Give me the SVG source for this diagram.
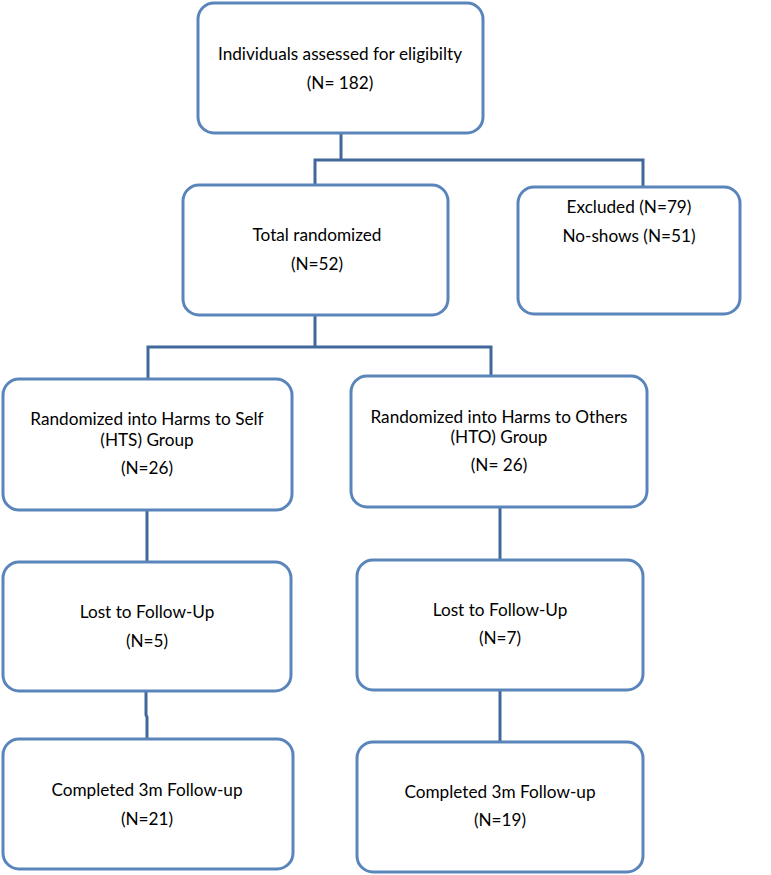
<svg xmlns="http://www.w3.org/2000/svg" width="771" height="875" viewBox="0 0 771 875">
<style>
.box{fill:#fff;stroke:#5a85bb;stroke-width:3}
.con{fill:none;stroke:#41689b;stroke-width:3}
text{font-family:Lato,"Open Sans","Liberation Sans",sans-serif;font-size:17.2px;fill:#000;text-anchor:middle}
</style>
<rect width="771" height="875" fill="#fff"/>
<g id="connectors">
<path class="con" d="M341,133 V160 M315,185 V160 H643 V187"/>
<path class="con" d="M315,315 V347 M148,379 V347 H491 V376"/>
<path class="con" d="M147,510 V562"/>
<path class="con" d="M500,507 V560"/>
<path class="con" d="M146,691 V715 L147,717 V739"/>
<path class="con" d="M500,690 V742"/>
</g>
<g id="n1"><rect class="box" x="198" y="3" width="285" height="130" rx="16"/>
<text x="340" y="60">Individuals assessed for eligibilty</text><text x="340" y="89">(N= 182)</text></g>
<g id="n2"><rect class="box" x="183" y="185" width="265" height="130" rx="16"/>
<text x="317" y="241">Total randomized</text><text x="317" y="270">(N=52)</text></g>
<g id="n3"><rect class="box" x="518" y="187" width="222" height="127" rx="16"/>
<text x="629" y="213">Excluded (N=79)</text><text x="629" y="242">No-shows (N=51)</text></g>
<g id="n4"><rect class="box" x="3" y="379" width="289" height="131" rx="16"/>
<text x="147" y="425">Randomized into Harms to Self</text><text x="147" y="446">(HTS) Group</text><text x="147" y="474">(N=26)</text></g>
<g id="n5"><rect class="box" x="351" y="376" width="296" height="131" rx="16"/>
<text x="499" y="423">Randomized into Harms to Others</text><text x="499" y="443">(HTO) Group</text><text x="499" y="471">(N= 26)</text></g>
<g id="n6"><rect class="box" x="3" y="562" width="288" height="129" rx="16"/>
<text x="147" y="618">Lost to Follow-Up</text><text x="147" y="647">(N=5)</text></g>
<g id="n7"><rect class="box" x="357" y="560" width="286" height="130" rx="16"/>
<text x="500" y="616">Lost to Follow-Up</text><text x="500" y="644">(N=7)</text></g>
<g id="n8"><rect class="box" x="3" y="739" width="290" height="130" rx="16"/>
<text x="147" y="796">Completed 3m Follow-up</text><text x="147" y="825">(N=21)</text></g>
<g id="n9"><rect class="box" x="357" y="742" width="286" height="130" rx="16"/>
<text x="500" y="798">Completed 3m Follow-up</text><text x="500" y="826">(N=19)</text></g>
</svg>
